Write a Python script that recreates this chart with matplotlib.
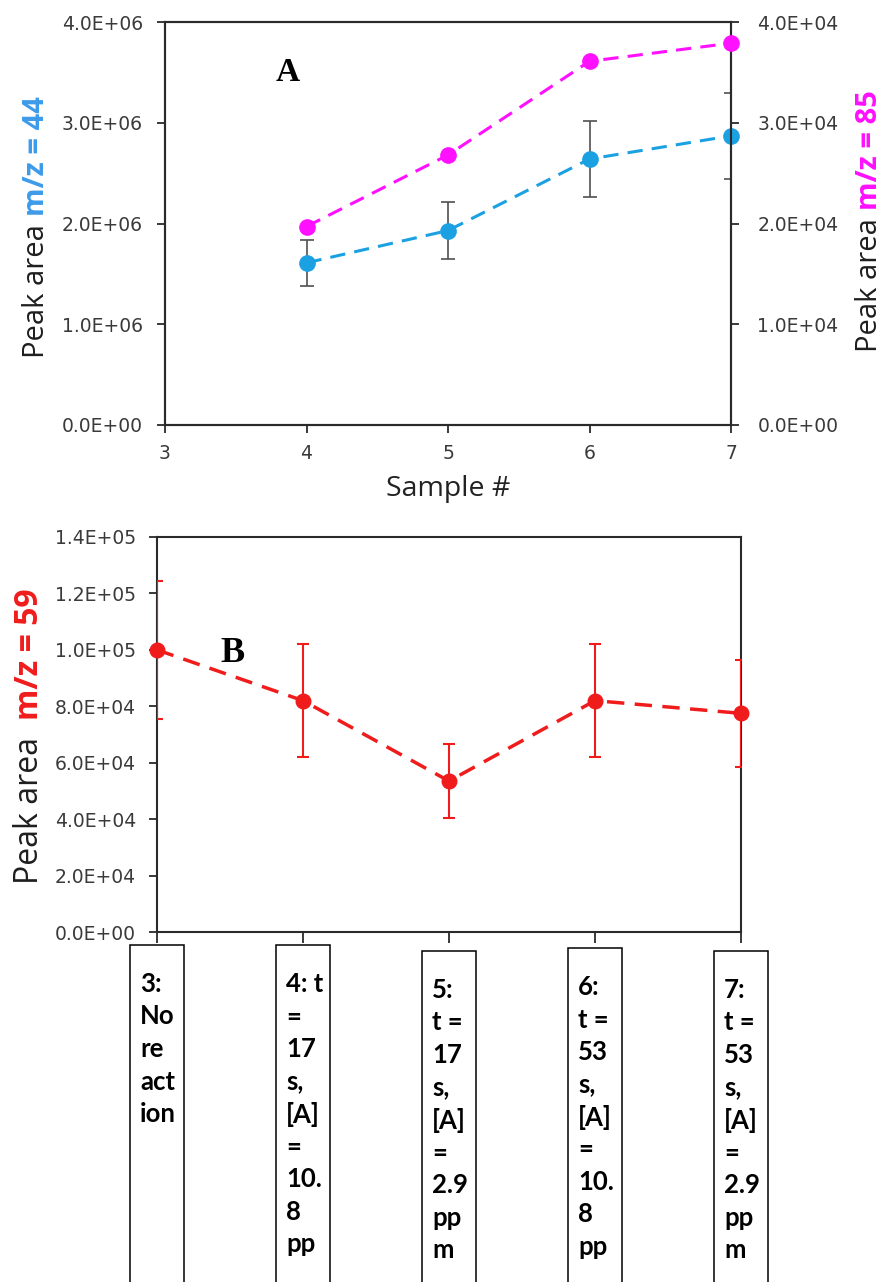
import matplotlib
matplotlib.use('Agg')
import matplotlib.pyplot as plt
from matplotlib.patches import Rectangle
from matplotlib.ticker import FuncFormatter
from matplotlib import transforms

# data
samples_a = [4, 5, 6, 7]
m44 = [1.61e6, 1.93e6, 2.64e6, 2.87e6]
m44_err = [0.23e6, 0.28e6, 0.38e6, 0.43e6]
m85 = [1.97e4, 2.68e4, 3.61e4, 3.79e4]

samples_b = [3, 4, 5, 6, 7]
m59 = [1.0e5, 8.2e4, 5.35e4, 8.2e4, 7.75e4]
m59_err = [2.45e4, 2.0e4, 1.3e4, 2.0e4, 1.9e4]

box_labels = [
    ["3:", "No", "re", "act", "ion"],
    ["4: t", "=", "17", "s,", "[A]", "=", "10.", "8", "pp"],
    ["5:", "t =", "17", "s,", "[A]", "=", "2.9", "pp", "m"],
    ["6:", "t =", "53", "s,", "[A]", "=", "10.", "8", "pp"],
    ["7:", "t =", "53", "s,", "[A]", "=", "2.9", "pp", "m"],
]
box_tops = [945, 945, 951, 948, 951]  # pixels from top

W, H = 885, 1282
CYAN = '#1ba1e2'
MAGENTA = '#ff10ff'
RED = '#f01c1c'
TICK_C = '#3a3a3a'

fig = plt.figure(figsize=(W / 100, H / 100), dpi=100)
sci = FuncFormatter(lambda v, p: f"{v:.1E}")


def style_axes(ax):
    for s in ax.spines.values():
        s.set_color('#2a2a2a')
        s.set_linewidth(1.5)
    ax.tick_params(direction='out', length=6, width=1.3, colors='#2a2a2a',
                   labelcolor=TICK_C, labelsize=13.5, pad=10)


# ---- panel A ----
ax1 = fig.add_axes([165 / W, 1 - 425 / H, 566 / W, 403 / H])
ax1.errorbar(samples_a, m44, yerr=m44_err, fmt='none', ecolor='#505050',
             elinewidth=1.2, capsize=5, capthick=1.2, zorder=2)
ax1.plot(samples_a, m44, color=CYAN, ls=(0, (5, 3)), lw=2.2, marker='o',
         ms=11, zorder=3, clip_on=False)
ax1.set_xlim(3, 7)
ax1.set_ylim(0, 4e6)
ax1.set_xticks([3, 4, 5, 6, 7])
ax1.set_yticks([0, 1e6, 2e6, 3e6, 4e6])
ax1.yaxis.set_major_formatter(sci)
style_axes(ax1)
ax1.tick_params(axis='x', pad=8)
ax1.set_xlabel('Sample #', family='Open Sans', fontsize=20.5, color='#222222', labelpad=8)

ax1b = ax1.twinx()
ax1b.plot(samples_a, m85, color=MAGENTA, ls=(0, (5, 3)), lw=2.2, marker='o',
          ms=11, zorder=3, clip_on=False)
ax1b.set_ylim(0, 4e4)
ax1b.set_yticks([0, 1e4, 2e4, 3e4, 4e4])
ax1b.yaxis.set_major_formatter(sci)
style_axes(ax1b)
ax1b.tick_params(axis='y', pad=13)
ax1.text(0.217, 0.875, 'A', transform=ax1.transAxes, family='Liberation Serif',
         fontweight='bold', fontsize=24, ha='center', va='center')

# ---- panel B ----
ax2 = fig.add_axes([157 / W, 1 - 932 / H, 584 / W, 395 / H])
ax2.errorbar(samples_b, m59, yerr=m59_err, fmt='none', ecolor=RED,
             elinewidth=1.5, capsize=4.5, capthick=1.5, zorder=3)
ax2.plot(samples_b, m59, color=RED, ls=(0, (5, 3)), lw=2.5, marker='o',
         ms=10.5, zorder=4, clip_on=False)
ax2.set_xlim(3, 7)
ax2.set_ylim(0, 1.4e5)
ax2.set_xticks(samples_b)
ax2.set_xticklabels([])
ax2.set_yticks([i * 2e4 for i in range(8)])
ax2.yaxis.set_major_formatter(sci)
style_axes(ax2)
ax2.tick_params(axis='y', pad=9)
ax2.tick_params(axis='x', length=8)
ax2.text(0.129, 0.705, 'B', transform=ax2.transAxes, family='Liberation Serif',
         fontweight='bold', fontsize=26, ha='center', va='center')

# ---- two colour rotated axis titles ----
renderer = fig.canvas.get_renderer()


def two_tone(x_px, y_px, parts, size):
    y = y_px
    for s, c, w in parts:
        t = fig.text(x_px / W, 1 - y / H, s, rotation=90, rotation_mode='anchor',
                     ha='left', va='baseline', color=c, fontsize=size,
                     fontweight=w, family='Open Sans')
        y -= t.get_window_extent(renderer).height


two_tone(44, 358, [('Peak area ', '#1e1e1e', 'normal'),
                   ('m/z = 44', '#3d9be9', 'bold')], 21)
two_tone(877, 352, [('Peak area ', '#1e1e1e', 'normal'),
                    ('m/z = 85', MAGENTA, 'bold')], 21)
two_tone(38, 884, [('Peak area  ', '#1e1e1e', 'normal'),
                   ('m/z = 59', RED, 'bold')], 23)

# ---- sample description boxes under panel B ----
xtrans = transforms.blended_transform_factory(ax2.transData, fig.transFigure)
ttrans = transforms.offset_copy(xtrans, fig=fig, x=10, y=0, units='dots')
bw = 0.37
for x, lines, top in zip(samples_b, box_labels, box_tops):
    rect = Rectangle((x - bw / 2, 1 - 1300 / H), bw, (1300 - top) / H,
                     transform=xtrans, fill=False, ec='black', lw=1.1, clip_on=False)
    fig.add_artist(rect)
    for j, line in enumerate(lines):
        fig.text(x - bw / 2, 1 - (top + 27 + j * 32.5) / H, line, transform=ttrans,
                 family='Lato', fontweight='bold', fontsize=18.5, ha='left', va='top')

fig.savefig('out.png', dpi=100)
